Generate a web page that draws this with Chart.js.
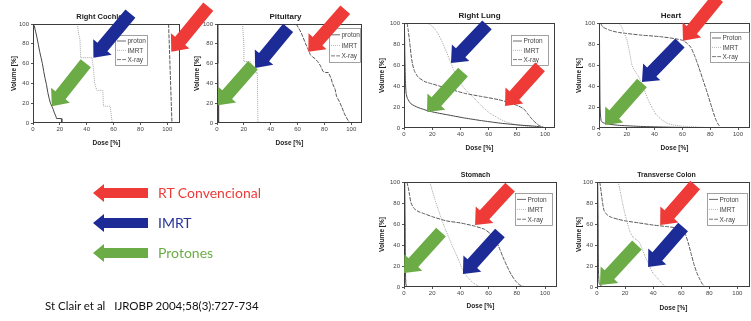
<!DOCTYPE html>
<html>
<head>
<meta charset="utf-8">
<script src="https://cdn.jsdelivr.net/npm/chart.js@4.4.1/dist/chart.umd.min.js"></script>
<style>
  html, body { margin: 0; padding: 0; background: #fff; }
  body { position: relative; width: 751px; height: 321px; overflow: hidden; }
  canvas.dvh { position: absolute; }
  #arrows { position: absolute; left: 0; top: 0; pointer-events: none; }
  .key { position: absolute; left: 158px; font-family: Lato, "Open Sans", sans-serif; font-size: 14px; line-height: 16px; white-space: nowrap; }
  .cite { position: absolute; left: 45px; top: 299px; font-family: Lato, "Open Sans", sans-serif; font-size: 11.5px; line-height: 14px; color: #111; white-space: pre; }
</style>
</head>
<body>
<canvas class="dvh" id="c0"></canvas>
<canvas class="dvh" id="c1"></canvas>
<canvas class="dvh" id="c2"></canvas>
<canvas class="dvh" id="c3"></canvas>
<canvas class="dvh" id="c4"></canvas>
<canvas class="dvh" id="c5"></canvas>
<canvas id="arrows" width="751" height="321"></canvas>
<div class="key" style="top:185px;color:#ee3b37">RT Convencional</div>
<div class="key" style="top:215px;color:#253399">IMRT</div>
<div class="key" style="top:245px;color:#6cad47">Protones</div>
<div class="cite">St Clair et al   IJROBP 2004;58(3):727-734</div>
<script>
// DVH curves, [dose %, volume %]
const organs = ['Right Cochlea', 'Pituitary', 'Right Lung', 'Heart', 'Stomach', 'Transverse Colon'];
const seriesNames = ['Proton', 'IMRT', 'X-ray'];
const seriesNamesLower = ['proton', 'IMRT', 'X-ray'];
const doseTicks = [0, 20, 40, 60, 80, 100];
const volumeTicks = [0, 20, 40, 60, 80, 100];
const keyLabels = ['RT Convencional', 'IMRT', 'Protones'];

const cochleaProton = [[0,100],[1,98],[2,92],[3,86],[4,79],[5,72],[6,66],[7,60],[8,52],[9,45],[10,39],[11,31],[12,25],[13,20],[14,17],[15,14],[16,10],[17,7],[17.5,4.5],[21,4.5],[21.5,0]];
const cochleaImrt = [[33,100],[34,90],[35,84],[35.5,66],[44,66],[45,55],[46,40],[47.5,33],[52,33],[52.5,17],[57.5,17],[59,0]];
const cochleaXray = [[101,100],[102,60],[103,20],[103.5,0]];

const pituitaryProton = [[0.3,100],[0.6,60],[0.9,20],[1.2,0]];
const pituitaryImrt = [[19,100],[20,80],[20,62],[25,62],[26,55],[27,51],[30,51],[30.5,0]];
const pituitaryXray = [[59,100],[62,93],[64,87],[66,80],[68,74],[69.5,69],[71,67],[73,65],[75,62],[77,58],[79,52],[81,51],[83,51],[85,45],[86,40],[88,34],[89,27],[91,22],[93,16],[95,9],[97,4],[98,2],[99,0]];

const lungProton = [[0.3,100],[0.6,70],[1,45],[1.5,33],[2.5,28],[5,23],[10,19.5],[18,16],[25,14],[35,11.5],[43,9.5],[55,7],[67,4.8],[80,3],[90,2],[95,1.4],[100,0]];
const lungImrt = [[12,100],[17,99.5],[20,97],[23,92],[26,85],[29,76],[32,66],[35,56],[38,47],[42,39],[46,33],[50,28],[55,21],[60,15],[66,10],[72,6],[80,3],[90,1.2],[100,0]];
const lungXray = [[2.2,100],[3,93],[4,82],[5,70],[6,61],[7.5,54],[10,48.5],[15,44],[20,42],[30,38],[43,33],[55,30],[67,27],[75,24],[81,21],[85,18],[88,13],[91,8],[95,3],[100,0]];

const heartProton = [[0.3,100],[0.5,60],[0.8,20],[1.5,7],[3,5],[8,3.5],[15,2.5],[30,1.5],[50,0.8],[70,0.3],[85,0]];
const heartImrt = [[14,100],[16,97],[18,91],[20,84],[22,72],[23.5,61],[25,56],[28,50],[30,45],[32,38],[35,28],[38,20],[41,13],[45,8],[50,4],[58,2],[70,1],[85,0]];
const heartXray = [[1,100],[3,96],[8,93],[14,91],[20,90],[30,88.5],[44,87],[55,85],[60,83.5],[63,81],[66,77],[69,68],[72,57],[75,45],[78,33],[81,20],[84,8],[86,3],[88,0]];

const stomachProton = [[0.5,100],[0.8,60],[1,20],[1.3,3],[2,0]];
const stomachImrt = [[18,100],[19,97],[20,92],[22,83],[24,75],[26.5,65],[29,56],[31.5,48],[34,40],[37,31],[39,25],[41,18],[43,13],[46,8],[49,4],[52,1.5],[54,0]];
const stomachXray = [[2,100],[3,95],[4,87],[5,80],[7,75],[10,72],[14,70],[20,67],[30,63],[40,61],[50,58],[57,55],[61,51],[64,46],[67,39],[70,29],[73,20],[76,12],[79,6],[82,2],[86,0]];

const colonProton = [[0.5,100],[0.8,60],[1,20],[1.5,4],[3,1],[5,0]];
const colonImrt = [[15,100],[16,95],[17,88],[18.5,78],[20,69],[21,64],[22.5,57],[24,51],[26,47],[28,45],[30,43],[32,37],[34,30],[36,24],[38,18],[40,13],[42,10],[44,7],[46,4],[48,1],[49,0]];
const colonXray = [[2,100],[3,90],[4,80],[5,73],[7,69],[10,66.5],[15,64.5],[20,63],[30,61],[40,59],[50,57.5],[58,56],[61,54],[63,50],[65,42],[67,32],[69,22],[71,14],[73,8],[75,3],[77,0]];

// where each highlight arrow points: [X-ray, IMRT, Proton] as [dose, volume]
const cochleaArrowTips = [[103,72],[45,66],[14,17]];
const pituitaryArrowTips = [[68,72],[28.4,55.6],[0.7,18]];
const lungArrowTips = [[71.6,21],[33.3,62],[16.3,15.2]];
const heartArrowTips = [[60.4,83],[30.9,43.8],[4.3,2.9]];
const stomachArrowTips = [[50.4,59],[41.8,12.4],[0,13.3]];
const colonArrowTips = [[45,59],[36.4,19],[2.1,1.9]];

const arrowColors = ['#ee3b37', '#1c2b95', '#6cac46'];

// canvas box [left, top, width, height], plot area [left, top, right, bottom]
const panels = [
  { series: [cochleaProton, cochleaImrt, cochleaXray], names: seriesNamesLower, tips: cochleaArrowTips,
    box: [6, 0, 194, 151], area: [33, 24, 180, 123], xMax: 109.5, titleSize: 7.5, titleDx: -5,
    keyBox: [33, 11, 32, 30], tails: [[37,-45],[37,-44],[34,-43]] },
  { series: [pituitaryProton, pituitaryImrt, pituitaryXray], names: seriesNamesLower, tips: pituitaryArrowTips,
    box: [189, 0, 191, 151], area: [217, 24, 362, 123], xMax: 108, titleSize: 8, titleDx: -4,
    keyBox: [2, 4, 31, 34], tails: [[37,-42],[33,-40],[35,-40]] },
  { series: [lungProton, lungImrt, lungXray], names: seriesNames, tips: lungArrowTips,
    box: [374, 0, 186, 156], area: [404, 23, 555, 128], xMax: 107, titleSize: 8, titleDx: 0,
    keyBox: [7, 12, 37, 30], tails: [[35,-39],[36,-38],[36,-40]] },
  { series: [heartProton, heartImrt, heartXray], names: seriesNames, tips: heartArrowTips,
    box: [571, 0, 180, 156], area: [599, 23, 750, 128], xMax: 108.6, titleSize: 8, titleDx: -3.5,
    keyBox: [1, 9, 39, 30], tails: [[35,-43],[38,-39],[37,-42]] },
  { series: [stomachProton, stomachImrt, stomachXray], names: seriesNames, tips: stomachArrowTips,
    box: [374, 170, 186, 144], area: [404, 182, 557, 287], xMax: 108.5, titleSize: 7, titleDx: -5,
    keyBox: [5, 11, 37, 32], tails: [[35,-38],[37,-41],[37,-41]] },
  { series: [colonProton, colonImrt, colonXray], names: seriesNames, tips: colonArrowTips,
    box: [571, 170, 180, 146], area: [597, 182, 750, 287], xMax: 109, titleSize: 7, titleDx: -7,
    keyBox: [3, 11, 40, 32], tails: [[35,-40],[35,-40],[37,-40]] }
];

const lineStyles = [
  { borderColor: '#474747', borderDash: [] },
  { borderColor: '#a6a6a6', borderDash: [1, 1] },
  { borderColor: '#585858', borderDash: [4, 1.2] }
];

Chart.defaults.font.family = '"Liberation Sans", Arial, sans-serif';
Chart.defaults.color = '#333';

// frame, panel title and small series key
const panelDecor = {
  id: 'panelDecor',
  afterDraw(chart, args, opts) {
    const { ctx, chartArea: a } = chart;
    ctx.save();
    ctx.strokeStyle = '#3c3c3c';
    ctx.lineWidth = 1;
    ctx.strokeRect(a.left + 0.5, a.top + 0.5, a.right - a.left - 1, a.bottom - a.top - 1);

    ctx.fillStyle = '#222';
    ctx.font = 'bold ' + opts.titleSize + 'px "Liberation Sans", Arial, sans-serif';
    ctx.textAlign = 'center';
    ctx.textBaseline = 'middle';
    ctx.fillText(opts.title, (a.left + a.right) / 2 + opts.titleDx, a.top - 7);

    const [ri, ti, w, h] = opts.keyBox;
    const kx = a.right - ri - w, ky = a.top + ti;
    ctx.fillStyle = '#fff';
    ctx.fillRect(kx, ky, w, h);
    ctx.strokeStyle = '#8a8a8a';
    ctx.lineWidth = 0.8;
    ctx.strokeRect(kx + 0.5, ky + 0.5, w, h);
    ctx.font = '6.5px "Liberation Sans", Arial, sans-serif';
    ctx.textAlign = 'left';
    chart.data.datasets.forEach((ds, i) => {
      const y = ky + h * 0.2 + i * h * 0.31;
      ctx.strokeStyle = ds.borderColor;
      ctx.setLineDash(ds.borderDash);
      ctx.beginPath();
      ctx.moveTo(kx + 2, y);
      ctx.lineTo(kx + 11, y);
      ctx.stroke();
      ctx.setLineDash([]);
      ctx.fillStyle = '#444';
      ctx.fillText(ds.label, kx + 12.5, y + 0.5);
    });
    ctx.restore();
  }
};

const charts = panels.map((p, idx) => {
  const cv = document.getElementById('c' + idx);
  const [bl, bt, bw, bh] = p.box;
  cv.width = bw;
  cv.height = bh;
  cv.style.left = bl + 'px';
  cv.style.top = bt + 'px';
  return new Chart(cv, {
    type: 'line',
    data: {
      datasets: p.series.map((s, i) => ({
        label: p.names[i],
        data: s.map(([x, y]) => ({ x, y })),
        borderColor: lineStyles[i].borderColor,
        borderDash: lineStyles[i].borderDash,
        borderWidth: 1,
        pointRadius: 0,
        tension: idx < 2 ? 0 : 0.2,
        fill: false
      }))
    },
    options: {
      responsive: false,
      animation: false,
      events: [],
      layout: { padding: { top: p.area[1] - bt, right: bl + bw - p.area[2], left: 0, bottom: 0 } },
      scales: {
        x: {
          type: 'linear', min: 0, max: p.xMax,
          afterBuildTicks: axis => { axis.ticks = doseTicks.map(v => ({ value: v })); },
          afterFit: axis => { axis.height = bt + bh - p.area[3]; },
          ticks: { font: { size: 6 }, padding: 1, maxRotation: 0, color: '#444' },
          grid: { drawOnChartArea: false, drawTicks: true, tickLength: 2, color: '#555' },
          border: { display: false },
          title: { display: true, text: 'Dose [%]', font: { size: 6.5, weight: 'bold' }, color: '#222' }
        },
        y: {
          type: 'linear', min: 0, max: 100,
          afterBuildTicks: axis => { axis.ticks = volumeTicks.map(v => ({ value: v })); },
          afterFit: axis => { axis.width = p.area[0] - bl; },
          ticks: { font: { size: 6 }, padding: 2, color: '#444' },
          grid: { drawOnChartArea: false, drawTicks: true, tickLength: 2, color: '#555' },
          border: { display: false },
          title: { display: true, text: 'Volume [%]', font: { size: 6.5, weight: 'bold' }, color: '#222' }
        }
      },
      plugins: {
        legend: { display: false },
        tooltip: { enabled: false },
        panelDecor: { title: organs[idx], titleSize: p.titleSize, titleDx: p.titleDx, keyBox: p.keyBox }
      }
    },
    plugins: [panelDecor]
  });
});

// block arrow from tail to tip
function blockArrow(ctx, tx, ty, hx, hy, shaft, head, headLen, color) {
  const len = Math.hypot(hx - tx, hy - ty);
  const ux = (hx - tx) / len, uy = (hy - ty) / len;
  const nx = -uy, ny = ux;
  const bx = hx - ux * headLen, by = hy - uy * headLen;
  ctx.fillStyle = color;
  ctx.beginPath();
  ctx.moveTo(tx + nx * shaft / 2, ty + ny * shaft / 2);
  ctx.lineTo(bx + nx * shaft / 2, by + ny * shaft / 2);
  ctx.lineTo(bx + nx * head / 2, by + ny * head / 2);
  ctx.lineTo(hx, hy);
  ctx.lineTo(bx - nx * head / 2, by - ny * head / 2);
  ctx.lineTo(bx - nx * shaft / 2, by - ny * shaft / 2);
  ctx.lineTo(tx - nx * shaft / 2, ty - ny * shaft / 2);
  ctx.closePath();
  ctx.fill();
}

const actx = document.getElementById('arrows').getContext('2d');
charts.forEach((chart, idx) => {
  const p = panels[idx];
  p.tips.forEach(([dose, vol], k) => {
    const hx = p.box[0] + chart.scales.x.getPixelForValue(dose);
    const hy = p.box[1] + chart.scales.y.getPixelForValue(vol);
    const [dx, dy] = p.tails[k];
    blockArrow(actx, hx + dx, hy + dy, hx, hy, 13, 24, 14, arrowColors[k]);
  });
});

// colour key on the left
keyLabels.forEach((label, k) => {
  const y = 193 + k * 30;
  blockArrow(actx, 148, y, 93, y, 10, 18, 11, arrowColors[k]);
});
</script>
</body>
</html>
